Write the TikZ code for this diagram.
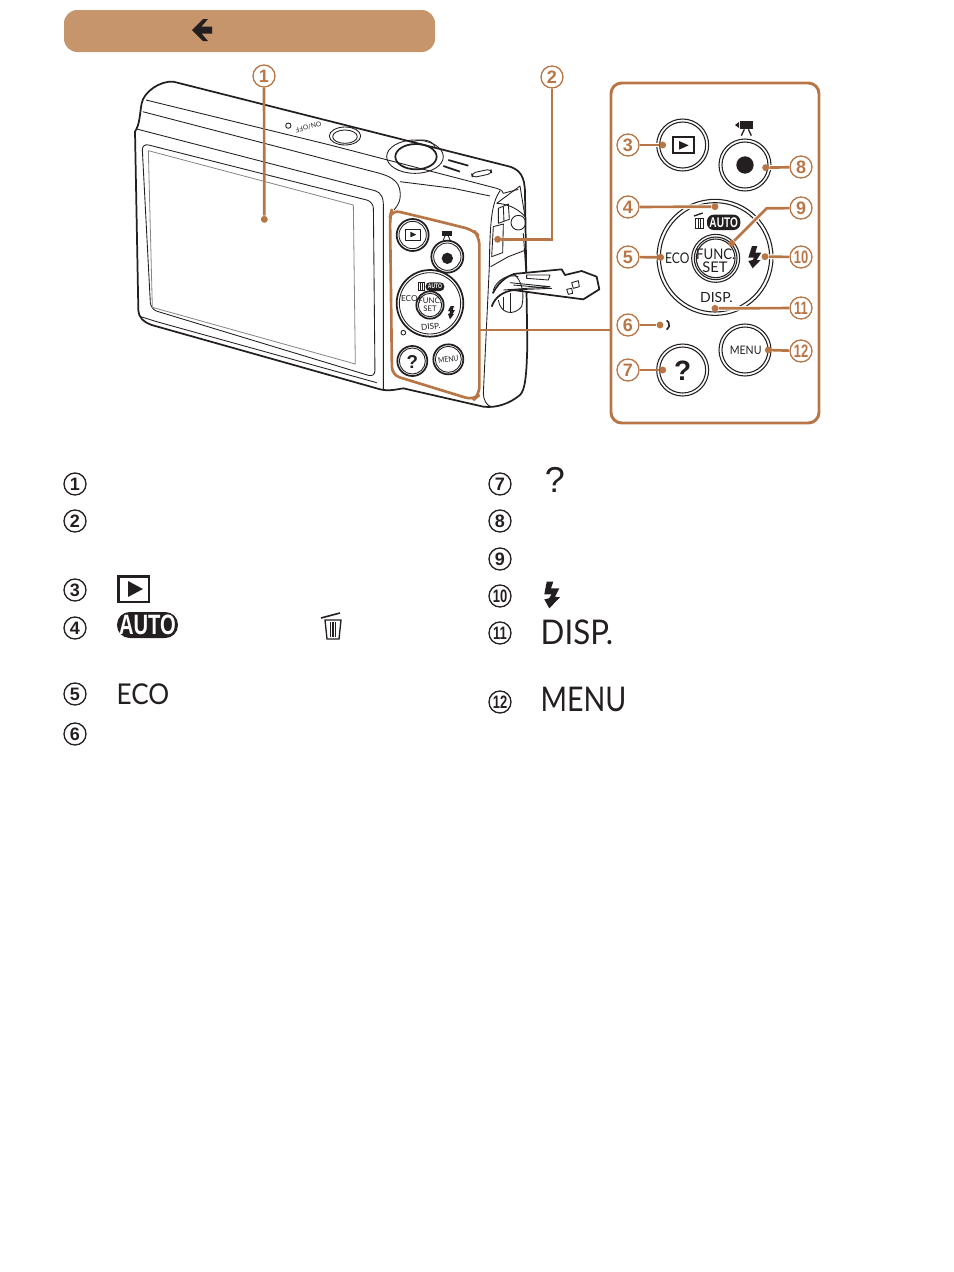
\documentclass[tikz,border=0pt]{standalone}
\usepackage{fontspec}
\setmainfont{Lato}
\newfontfamily\numf{Liberation Sans}
\newcommand\fsz[1]{\fontsize{#1}{#1}\selectfont}
\definecolor{lead}{RGB}{184,118,70}
\definecolor{band}{RGB}{198,149,107}
\definecolor{ink}{RGB}{35,31,32}
\tikzset{
  numo/.style={circle,draw=lead,line width=1pt,fill=white,text=lead,inner sep=0pt,minimum size=16.5pt,font=\numf\bfseries\fsz{13.5}},
  numk/.style={circle,draw=ink,line width=1pt,text=ink,inner sep=0pt,minimum size=16.5pt,font=\numf\bfseries\fsz{13.5}},
  dotm/.style={circle,fill=lead,inner sep=0pt,minimum size=5.2pt},
  leadline/.style={draw=lead,line width=2pt},
  halo/.style={preaction={draw=white,line width=3.6pt}},
  camt/.style={draw=ink,line width=1.3pt,line join=round},
  camn/.style={draw=ink,line width=.65pt,line join=round},
  camg/.style={draw=ink!55,line width=.6pt,line join=round},
  ring/.style={draw=ink,line width=.8pt},
  txt/.style={inner sep=0pt,text=ink},
  pill/.style={fill=ink,text=white,inner sep=0pt,rounded corners=#1},
}
\newcommand\nar[2]{\scalebox{#1}[1]{#2}}
\begin{document}
\begin{tikzpicture}[x=.75pt,y=-.75pt]
\useasboundingbox (0,0) rectangle (954,1272);
% banner
\node[fill=band,rounded corners=10pt,minimum width=278.25pt,minimum height=31.5pt,inner sep=0pt] (banner) at (249.5,31) {};
\fill[ink] (192,30) -- (203,19) -- (208,19) -- (201.5,26.5) -- (212,26.5) -- (212,33.5) -- (201.5,33.5) -- (208,41) -- (203,41) -- cycle;

% ---------- camera, in coordinates of the 3x crop
\begin{scope}[shift={(120,60)},x=.25pt,y=-.25pt]
\draw[camt,fill=white] (45,215) .. controls (60,190) and (58,170) .. (65,130) .. controls (72,95) and (120,62) .. (160,65) -- (1170,320) .. controls (1200,330) and (1215,350) .. (1215,400) -- (1222,850) .. controls (1220,950) and (1215,990) .. (1200,1005) .. controls (1170,1030) and (1130,1045) .. (1090,1040) -- (850,985) .. controls (820,990) and (800,995) .. (770,985) -- (95,795) .. controls (70,785) and (57,775) .. (55,750) -- cycle;
% top surface lines
\draw[camn] (78,120) -- (630,255) -- (1130,385) .. controls (1145,390) and (1150,395) .. (1150,400);
\draw[camn] (68,155) -- (760,335) .. controls (825,350) and (845,370) .. (840,415) .. controls (838,430) and (830,440) .. (822,450);
\draw[camn] (840,365) -- (1000,385) -- (1110,408);
\draw[camn] (50,207) -- (765,392) .. controls (785,398) and (792,415) .. (790,450) -- (790,988);
% screen
\draw[camn,rounded corners=5pt] (66,250) -- (760,425) -- (765,952) -- (92,748) -- cycle;
\draw[camg] (85,272) -- (700,435) -- (706,912) -- (97,742) -- cycle;
\draw[camn] (62,770) -- (110,785) -- (770,968);
% power button and top text
\draw[camn] (675,228) ellipse (47 and 27);
\draw[camn] (675,230) ellipse (37 and 20);
\node[txt,rotate=194,font=\fsz{5}] (onoff) at (565,201) {ON/OFF};
\draw[camn] (505,197) circle (8);
% zoom dial
\draw[camn] (885,290) ellipse (85 and 50);
\draw[camt] (888,290) ellipse (62 and 38);
\draw[camn] (880,245) .. controls (895,238) and (935,235) .. (945,260);
\draw[camn,rotate around={12:(1085,340)},rounded corners=3pt] (1055,333) rectangle (1115,347);
\draw[ink,line width=1.3pt] (985,300) -- (1045,317);
\draw[ink,line width=1.3pt] (970,318) -- (1020,335);
% right side
\draw[camn] (1140,392) .. controls (1115,430) and (1110,480) .. (1108,620) -- (1090,1000) .. controls (1090,1020) and (1100,1035) .. (1112,1040);
\draw[camn] (1130,430) -- (1200,378) -- (1215,470) .. controls (1190,440) and (1150,430) .. (1130,430);
\draw[camn] (1150,400) -- (1195,388);
\draw[camn] (1135,445) -- (1165,432) -- (1168,478) -- (1135,490) -- cycle;
\draw[camn] (1150,440) -- (1152,485);
\draw[camn] (1195,488) circle (22);
\draw[camn] (1120,500) -- (1150,492) -- (1148,578) -- (1115,590) -- cycle;
\draw[camn] (1112,620) -- (1165,590) -- (1212,572);
\draw[camn] (1210,520) -- (1222,700);
% door and strap
\draw[camt,fill=white] (1118,700) .. controls (1140,660) and (1170,640) .. (1200,640) -- (1325,628) -- (1335,645) -- (1385,633) -- (1430,650) -- (1438,688) -- (1390,718) -- (1290,705) -- (1180,690) .. controls (1150,695) and (1125,710) .. (1115,740);
\draw[camn] (1220,645) -- (1290,645) -- (1285,660) -- (1220,655) -- cycle;
\draw[camn] (1170,690) -- (1295,685) -- (1180,675);
\draw[camn] (1150,690) -- (1290,680) -- (1170,668);
\draw[camn] (1355,668) -- (1375,662) -- (1378,680) -- (1360,685) -- cycle;
\draw[camn] (1340,688) -- (1355,685) -- (1358,700) -- (1345,703) -- cycle;
\draw[camn] (1135,720) .. controls (1140,760) and (1180,770) .. (1205,740) .. controls (1215,700) and (1205,660) .. (1180,640);
\draw[camn] (1150,710) -- (1150,750);
\draw[camn] (1170,700) -- (1170,755);
\draw[camn] (1120,690) .. controls (1130,660) and (1165,640) .. (1195,650);
% buttons on the body
\draw[camt] (878,525) circle (48);
\draw[camn] (878,525) circle (41);
\draw[camn] (857,507) rectangle (900,540);
\fill[ink] (871,515) -- (871,532) -- (889,524) -- cycle;
\fill[ink] (967,512) rectangle (997,528);
\draw[camn] (975,528) -- (970,540) (985,528) -- (990,540);
\draw[camt] (982,590) circle (48);
\draw[camn] (982,590) circle (41);
\fill[ink] (982,595) circle (17);
\draw[camt] (930,730) circle (100);
\draw[camn] (930,730) circle (92);
\draw[camt] (930,735) circle (41);
\draw[camn] (930,735) circle (35);
\node[txt,font=\fsz{5.8}] (cfunc) at (930,735) {\shortstack[c]{FUNC.\\[-1pt]SET}};
\node[txt,font=\fsz{6.2}] (ceco) at (868,716) {ECO};
\node[txt,font=\fsz{6.2},rotate=5] (cdisp) at (932,800) {DISP.};
\node[pill=3pt,font=\numf\bfseries\fsz{5},minimum width=14pt,minimum height=6.5pt] (cauto) at (945,680) {\nar{.75}{AUTO}};
\draw[ink,line width=.7pt] (895,668) rectangle (912,690);
\draw[ink,line width=.5pt] (901,668) -- (901,690) (906,668) -- (906,690);
\fill[ink] (992,738) -- (1002,738) -- (998,750) -- (1005,750) -- (998,762) -- (1002,762) -- (990,778) -- (984,762) -- (989,760) -- (990,753) -- (984,753) -- cycle;
\draw[camn] (850,818) circle (7);
\draw[camt] (877,903) circle (45);
\draw[camn] (877,903) circle (39);
\node[txt,font=\numf\bfseries\fsz{14}] (cq) at (877,905) {?};
\draw[camt] (985,898) circle (45);
\draw[camn] (985,898) circle (39);
\node[txt,font=\fsz{6},rotate=8] (cmenu) at (985,898) {\nar{.85}{MENU}};
% orange inset on the camera
\draw[draw=lead,line width=2pt,rounded corners=6pt] (940,480) -- (815,450) -- (810,470) -- (816,945) -- (1060,1020) -- (1078,1005) -- (1078,530) -- (1060,510) -- cycle;
\coordinate (insetR) at (1078,810);
\node[dotm] (d1) at (433,478) {};
\node[dotm] (d2) at (1133,538) {};
\end{scope}

% ---------- enlarged panel, in coordinates of its 3x crop
\begin{scope}[shift={(600,75)},x=.25pt,y=-.25pt]
\node[draw=lead,line width=2.2pt,rounded corners=8pt,minimum width=156pt,minimum height=255pt,inner sep=0pt] (panel) at (345,534) {};
\draw[ring] (248,210) circle (78) (248,210) circle (69);
\draw[ink,line width=1.3pt] (219,187) rectangle (282,234);
\fill[ink] (237,198) -- (237,224) -- (266,211) -- cycle;
\draw[ring] (435,270) circle (78) (435,270) circle (69);
\fill[ink] (435,270) circle (26);
\fill[ink] (420,138) rectangle (458,163);
\fill[ink] (405,150) -- (417,141) -- (417,159) -- cycle;
\draw[ink,line width=1pt] (433,163) -- (424,182) (445,163) -- (454,182);
\draw[ring] (345,547) circle (174) (345,547) circle (164);
\draw[ring] (347,550) circle (72) (347,550) circle (64) (347,550) circle (58);
\node[txt,font=\fsz{11}] (pfunc) at (347,537) {\nar{.9}{FUNC.}};
\node[txt,font=\fsz{11}] (pset) at (345,578) {SET};
\node[txt,font=\fsz{11}] (peco) at (232,549) {\nar{.82}{ECO}};
\node[txt,font=\fsz{10.5}] (pdisp) at (349,668) {DISP.};
\node[pill=5pt,font=\numf\bfseries\fsz{10.5},minimum width=25pt,minimum height=11.5pt] (pauto) at (371,442) {\nar{.72}{AUTO}};
\draw[ink,line width=.9pt] (286,430) rectangle (310,460);
\draw[ink,line width=.7pt] (294,430) -- (294,460) (302,430) -- (302,460);
\draw[ink,line width=1pt] (282,423) -- (308,414);
\fill[ink] (456,513) -- (472,513) -- (466,533) -- (484,533) -- (470,555) -- (482,555) -- (458,580) -- (445,558) -- (458,555) -- (462,548) -- (445,548) -- cycle;
\draw[ink,line width=1.2pt] (200,764) arc (60:-60:16);
\draw[ring] (248,885) circle (78) (248,885) circle (69);
\node[txt,font=\numf\bfseries\fsz{21}] (pq) at (248,888) {?};
\draw[ring] (435,825) circle (78) (435,825) circle (69);
\node[txt,font=\fsz{8.8}] (pmenu) at (437,827) {\nar{.9}{MENU}};
\node[dotm] (d3) at (188,210) {};
\node[dotm] (d4) at (345,395) {};
\node[dotm] (d5) at (182,547) {};
\node[dotm] (d6) at (180,750) {};
\node[dotm] (d7) at (188,885) {};
\node[dotm] (d8) at (497,278) {};
\node[dotm] (d9) at (395,505) {};
\node[dotm] (d10) at (495,545) {};
\node[dotm] (d11) at (345,700) {};
\node[dotm] (d12) at (505,825) {};
\coordinate (panelL) at (30,765);
\coordinate (bend9) at (500,400);
\end{scope}

% numbered callouts
\node[numo] (n1) at (264,76) {1};
\node[numo] (n2) at (552,77) {2};
\node[numo] (n3) at (628,145) {3};
\node[numo] (n4) at (628,207) {4};
\node[numo] (n5) at (628,257) {5};
\node[numo] (n6) at (628,325) {6};
\node[numo] (n7) at (628,370) {7};
\node[numo] (n8) at (801,167) {8};
\node[numo] (n9) at (801,208) {9};
\node[numo] (n10) at (801,257) {\nar{.72}{10}};
\node[numo] (n11) at (801,308) {\nar{.72}{11}};
\node[numo] (n12) at (801,351) {\nar{.72}{12}};
% connectors
\draw[leadline] (n1) -- (d1);
\draw[leadline] (n2) |- (d2);
\draw[leadline] (insetR) -- (panelL |- insetR);
\draw[leadline,halo] (n3) -- (d3);
\draw[leadline,halo] (n4) -- (d4);
\draw[leadline,halo] (n5) -- (d5);
\draw[leadline] (n6) -- (d6);
\draw[leadline] (n7) -- (d7);
\draw[leadline,halo] (n8) -- (d8);
\draw[leadline,halo] (n9) -- (bend9) -- (d9);
\draw[leadline,halo] (n10) -- (d10);
\draw[leadline,halo] (n11) -- (d11);
\draw[leadline,halo] (n12) -- (d12);

% legend numbers
\node[numk] (k1) at (75,484) {1};
\node[numk] (k2) at (75,521) {2};
\node[numk] (k3) at (75,590) {3};
\node[numk] (k4) at (75,628) {4};
\node[numk] (k5) at (75,694) {5};
\node[numk] (k6) at (75,734) {6};
\node[numk] (k7) at (500,484) {7};
\node[numk] (k8) at (500,521) {8};
\node[numk] (k9) at (500,559) {9};
\node[numk] (k10) at (500,596) {\nar{.72}{10}};
\node[numk] (k11) at (500,633) {\nar{.72}{11}};
\node[numk] (k12) at (500,702) {\nar{.72}{12}};
% legend symbols
\draw[ink,line width=1.6pt] (118.5,576.5) rectangle (149,602);
\fill[ink] (128,581) -- (128,597) -- (143,589) -- cycle;
\node[pill=9.5pt,font=\numf\bfseries\fsz{21},minimum width=45.7pt,minimum height=19.5pt] (lauto) at (147.5,625) {\nar{.72}{AUTO}};
\draw[ink,line width=1pt] (325,620) -- (327,639) -- (339,639) -- (341,620) -- cycle;
\draw[ink,line width=.8pt] (330.5,622) -- (330.5,637) (333,622) -- (333,637) (335.5,622) -- (335.5,637);
\draw[ink,line width=1.2pt] (321,618) -- (340,613);
\node[txt,font=\fsz{21.5}] (leco) at (143,694.5) {\nar{.91}{ECO}};
\fill[ink] (546.7,581.7) -- (553.3,581.7) -- (551,588.3) -- (559.3,588.3) -- (555,596.7) -- (560,597.3) -- (549.3,608.3) -- (544.3,599.3) -- (549,598.3) -- (551.7,594.3) -- (544.3,594.3) -- cycle;
\node[txt,font=\numf\fsz{27}] (lq) at (555,480) {?};
\node[txt,font=\fsz{25.5}] (ldisp) at (577,632.5) {\nar{.92}{DISP.}};
\node[txt,font=\fsz{25.5}] (lmenu) at (583.5,699.5) {\nar{.84}{MENU}};
\end{tikzpicture}
\end{document}
